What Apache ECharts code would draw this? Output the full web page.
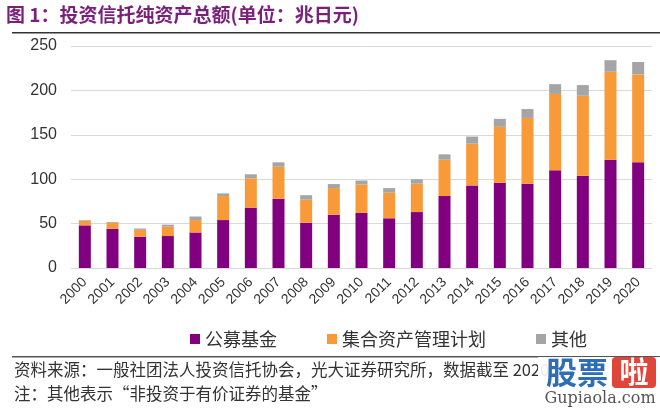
<!DOCTYPE html>
<html>
<head>
<meta charset="utf-8">
<script src="https://cdn.jsdelivr.net/npm/echarts@6/dist/echarts.min.js"></script>
<style>
html,body{margin:0;padding:0;background:#fff;}
#c{width:660px;height:410px;}
</style>
</head>
<body>
<div id="c"></div>
<script>
const categories = ['2000','2001','2002','2003','2004','2005','2006','2007','2008','2009','2010','2011','2012','2013','2014','2015','2016','2017','2018','2019','2020'];
const publicFunds = [48, 44, 35, 36, 40, 54, 68, 78, 51, 60, 62, 56, 63, 81, 93, 96, 95, 110, 104, 122, 119];
const collectiveMgmt = [5, 7, 8, 10.5, 14, 27, 33, 36, 26, 30, 32, 29, 32, 41, 47, 63, 74, 86, 90, 99, 99];
const others = [0.8, 0.8, 1.5, 2.3, 4, 3, 4.5, 5, 5, 4.5, 4.5, 5, 5, 6, 8, 9, 10, 11, 12, 13, 14];
const seriesNames = ['公募基金', '集合资产管理计划', '其他'];
const yTicks = {min: 0, max: 250, interval: 50};

const CJK = '"Noto Sans CJK SC", "Noto Sans", sans-serif';
const LAT = '"Liberation Sans", Arial, sans-serif';

const chart = echarts.init(document.getElementById('c'), null, {renderer: 'canvas'});
chart.setOption({
  animation: false,
  backgroundColor: '#ffffff',
  color: ['#800080', '#f99a38', '#a5a5a5'],
  grid: {left: 71, right: 8, top: 46, bottom: 142},
  legend: {
    data: seriesNames,
    left: 185,
    top: 325,
    itemWidth: 10,
    itemHeight: 10,
    itemGap: 50,
    icon: 'rect',
    textStyle: {fontFamily: CJK, fontSize: 18, color: '#333'}
  },
  xAxis: {
    type: 'category',
    data: categories,
    axisLine: {show: true, lineStyle: {color: '#d9d9d9'}},
    axisTick: {show: false},
    axisLabel: {rotate: 45, margin: 12, interval: 0, fontFamily: LAT, fontSize: 14, color: '#333'}
  },
  yAxis: {
    type: 'value',
    min: yTicks.min, max: yTicks.max, interval: yTicks.interval,
    axisLine: {show: false},
    axisTick: {show: false},
    splitLine: {lineStyle: {color: '#d9d9d9', width: 1}},
    axisLabel: {margin: 14, fontFamily: LAT, fontSize: 16, color: '#333'}
  },
  series: [
    {name: seriesNames[0], type: 'bar', stack: 't', barWidth: 12, data: publicFunds},
    {name: seriesNames[1], type: 'bar', stack: 't', barWidth: 12, data: collectiveMgmt},
    {name: seriesNames[2], type: 'bar', stack: 't', barWidth: 12, data: others}
  ],
  graphic: [
    {type: 'text', x: 6, y: 15, style: {text: '图 1：投资信托纯资产总额(单位：兆日元)', fontFamily: CJK, fontWeight: 'bold', fontSize: 19, fill: '#7a1f7a', verticalAlign: 'middle'}},
    {type: 'rect', shape: {x: 12, y: 32, width: 648, height: 1.5}, style: {fill: '#333'}},
    {type: 'rect', shape: {x: 12, y: 356, width: 648, height: 1.5}, style: {fill: '#555'}},
    {type: 'text', x: 14, y: 370, style: {text: '资料来源：一般社团法人投资信托协会，光大证券研究所，数据截至 2020', fontFamily: CJK, fontSize: 16.5, fill: '#333', verticalAlign: 'middle'}},
    {type: 'text', x: 14, y: 394, style: {text: '注：其他表示“非投资于有价证券的基金”', fontFamily: CJK, fontSize: 16.5, fill: '#333', verticalAlign: 'middle'}},
    {type: 'rect', shape: {x: 538, y: 357, width: 122, height: 53}, style: {fill: 'rgba(255,255,255,0.9)'}},
    {type: 'text', x: 546, y: 372, style: {text: '股票', fontFamily: CJK, fontWeight: 'bold', fontSize: 31, fill: '#2e6db8', verticalAlign: 'middle'}},
    {type: 'rect', shape: {x: 612, y: 357, width: 44, height: 31, r: 4}, style: {fill: '#e0453a'}},
    {type: 'text', x: 634, y: 372, style: {text: '啦', fontFamily: CJK, fontWeight: 'bold', fontSize: 29, fill: '#ffffff', align: 'center', verticalAlign: 'middle'}},
    {type: 'text', x: 600, y: 399, style: {text: 'Gupiaola.com', fontFamily: '"DejaVu Serif", serif', fontSize: 16, fill: '#555', align: 'center', verticalAlign: 'middle'}}
  ]
});
</script>
</body>
</html>
